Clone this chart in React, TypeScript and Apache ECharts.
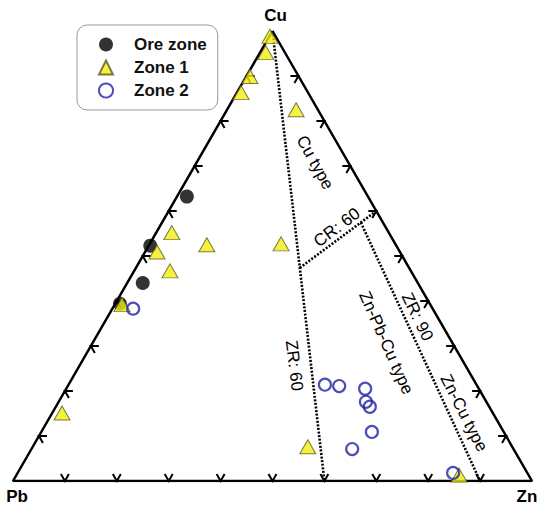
import React, { useEffect, useRef } from "react";
import * as echarts from "echarts";

// Compositions: [Cu, Pb, Zn] in %
const oreZone: number[][] = [
  [63.2, 34.9, 1.9],
  [52.3, 47.4, 0.3],
  [44.0, 53.0, 3.0],
  [39.4, 59.7, 0.9],
];
const zone1: number[][] = [
  [98.8, 1.1, 0.1],
  [95.2, 3.7, 1.1],
  [89.9, 9.4, 0.7],
  [86.3, 12.9, 0.8],
  [82.5, 4.2, 13.3],
  [55.2, 41.8, 3.0],
  [50.9, 46.8, 2.3],
  [52.5, 36.4, 11.1],
  [46.7, 46.4, 6.9],
  [39.2, 59.4, 1.4],
  [52.7, 22.0, 25.3],
  [15.1, 83.0, 1.9],
  [7.6, 39.4, 53.0],
  [1.3, 13.4, 85.3],
];
const zone2: number[][] = [
  [38.3, 57.7, 4.0],
  [21.4, 29.2, 49.4],
  [21.1, 26.6, 52.3],
  [20.5, 21.9, 57.6],
  [17.6, 23.2, 59.2],
  [16.5, 23.0, 60.5],
  [10.9, 25.4, 63.7],
  [7.1, 31.1, 61.8],
  [1.8, 14.3, 83.9],
];
const seriesNames = ["Ore zone", "Zone 1", "Zone 2"];
const vertexNames = ["Cu", "Pb", "Zn"];
const tickPercents = [10, 20, 30, 40, 50, 60, 70, 80, 90];
const zrLevels = [60, 90]; // ZR = Zn/(Zn+Pb), %
const crLevel = 60; // CR = Cu/(Cu+Zn), %
const fieldNames = ["Cu type", "CR: 60", "ZR: 60", "Zn-Pb-Cu type", "ZR: 90", "Zn-Cu type"];

// ---- layout (not data) ----
const FONT = '"Liberation Sans", Arial, Helvetica, sans-serif';
const H = Math.sqrt(3) / 2;
// label anchor positions in diagram units (x along base, y up) and rotation (deg)
const fieldLayout = [
  { at: [0.582, 0.613], rot: -61 },
  { at: [0.624, 0.488], rot: 37 },
  { at: [0.542, 0.222], rot: -83 },
  { at: [0.719, 0.266], rot: -66 },
  { at: [0.779, 0.316], rot: -64 },
  { at: [0.869, 0.131], rot: -63 },
];
const vertexOffsets = [
  [3, -16],
  [4, 15],
  [-5, 15],
];

function toXY(t: number[]): number[] {
  const s = t[0] + t[1] + t[2];
  const c = t[0] / s;
  const z = t[2] / s;
  return [z + c / 2, c * H];
}

// point where ZR line meets CR line, returned as [Cu, Pb, Zn] %
function zrCrPoint(zr: number, cr: number): number[] {
  const r = zr / 100;
  const k = cr / 100;
  const c = r / ((1 - k) / k + r);
  const z = r * (1 - c);
  return [c * 100, (1 - c - z) * 100, z * 100];
}

export default function App() {
  const ref = useRef<HTMLDivElement>(null);
  useEffect(() => {
    const chart = echarts.init(ref.current!, null, { renderer: "svg" });

    const vertices = [toXY([100, 0, 0]), toXY([0, 100, 0]), toXY([0, 0, 100])];
    const ticks: number[][] = [];
    tickPercents.forEach((p) => {
      ticks.push([...toXY([0, 100 - p, p]), 0]); // base (Pb-Zn)
      ticks.push([...toXY([p, 100 - p, 0]), 1]); // left (Pb-Cu)
      ticks.push([...toXY([p, 0, 100 - p]), 2]); // right (Cu-Zn)
    });
    const armDirs = [
      [
        [-0.5, -0.866],
        [0.5, -0.866],
      ],
      [
        [1, 0],
        [0.5, 0.866],
      ],
      [
        [-1, 0],
        [-0.5, 0.866],
      ],
    ];
    const ARM = 8;

    const zr60 = [toXY([100, 0, 0]), toXY([0, 100 - zrLevels[0], zrLevels[0]])];
    const cr60 = [toXY(zrCrPoint(zrLevels[0], crLevel)), toXY([crLevel, 0, 100 - crLevel])];
    const zr90 = [toXY(zrCrPoint(zrLevels[1], crLevel)), toXY([0, 100 - zrLevels[1], zrLevels[1]])];

    const dotted = (data: number[][]) => ({
      type: "line",
      data,
      symbol: "none",
      silent: true,
      z: 3,
      lineStyle: { color: "#000", width: 2.6, type: [2, 1.6] },
    });

    const textItems = [
      ...fieldLayout.map((f, i) => ({ value: f.at, text: fieldNames[i], rot: f.rot, bold: false, size: 17, off: [0, 0] })),
      ...vertices.map((v, i) => ({ value: v, text: vertexNames[i], rot: 0, bold: true, size: 17, off: vertexOffsets[i] })),
    ];

    chart.setOption({
      animation: false,
      backgroundColor: "#fff",
      grid: { left: 13, right: 18, top: 31, bottom: 33 },
      xAxis: { type: "value", min: 0, max: 1, show: false },
      yAxis: { type: "value", min: 0, max: H, show: false },
      legend: {
        orient: "vertical",
        left: 77,
        top: 25,
        padding: [11, 11, 11, 21],
        itemWidth: 14,
        itemHeight: 14,
        itemGap: 6,
        symbolKeepAspect: true,
        borderColor: "#999",
        borderWidth: 1,
        borderRadius: 10,
        selectedMode: false,
        textStyle: {
          fontFamily: FONT,
          fontSize: 17,
          fontWeight: "bold",
          color: "#111",
          padding: [0, 0, 0, 16],
        },
        data: [
          { name: seriesNames[0], icon: "circle" },
          { name: seriesNames[1], icon: "triangle" },
          { name: seriesNames[2], icon: "circle" },
        ],
      },
      series: [
        {
          type: "line",
          data: [...vertices, vertices[0]],
          symbol: "none",
          silent: true,
          z: 2,
          lineStyle: { color: "#000", width: 2.5 },
        },
        dotted(zr60),
        dotted(cr60),
        dotted(zr90),
        {
          type: "custom",
          silent: true,
          z: 4,
          data: ticks,
          renderItem: (params: any, api: any) => {
            const p = api.coord([api.value(0), api.value(1)]);
            const d = armDirs[api.value(2)];
            return {
              type: "polyline",
              shape: {
                points: [
                  [p[0] + d[0][0] * ARM, p[1] + d[0][1] * ARM],
                  p,
                  [p[0] + d[1][0] * ARM, p[1] + d[1][1] * ARM],
                ],
              },
              style: { stroke: "#000", lineWidth: 2, fill: null },
            };
          },
        },
        {
          type: "custom",
          silent: true,
          clip: false,
          z: 4,
          data: textItems.map((t) => t.value),
          renderItem: (params: any, api: any) => {
            const t = textItems[params.dataIndex];
            const p = api.coord([api.value(0), api.value(1)]);
            return {
              type: "text",
              x: p[0] + t.off[0],
              y: p[1] + t.off[1],
              rotation: (t.rot * Math.PI) / 180,
              style: {
                text: t.text,
                fontFamily: FONT,
                fontSize: t.size,
                fontWeight: t.bold ? "bold" : "normal",
                fill: "#000",
                align: "center",
                verticalAlign: "middle",
              },
            };
          },
        },
        {
          name: seriesNames[0],
          type: "scatter",
          z: 5,
          symbol: "circle",
          symbolSize: 14,
          data: oreZone.map(toXY),
          itemStyle: { color: "#000" },
        },
        {
          name: seriesNames[1],
          type: "scatter",
          z: 5,
          symbol: "triangle",
          symbolSize: [16, 14],
          data: zone1.map(toXY),
          itemStyle: { color: "#f3ee12", borderColor: "#5b5a24", borderWidth: 1 },
        },
        {
          name: seriesNames[2],
          type: "scatter",
          z: 5,
          symbol: "circle",
          symbolSize: 12,
          data: zone2.map(toXY),
          itemStyle: { color: "rgba(255,255,255,0)", borderColor: "#1f22a6", borderWidth: 2.2 },
        },
      ],
    });
    return () => chart.dispose();
  }, []);
  return <div ref={ref} style={{ position: "fixed", left: 0, top: 0, width: 550, height: 514 }} />;
}
